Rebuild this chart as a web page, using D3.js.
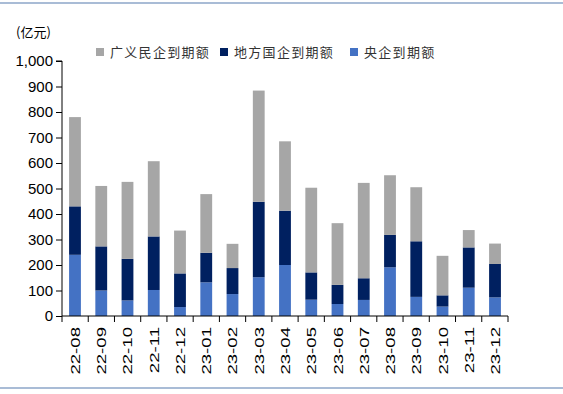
<!DOCTYPE html>
<html>
<head>
<meta charset="utf-8">
<script src="https://cdn.jsdelivr.net/npm/d3@7"></script>
<style>
  body { margin: 0; background: #fff; }
  svg { display: block; }
</style>
</head>
<body>
<div id="chart"></div>
<script>
const months = ['22-08', '22-09', '22-10', '22-11', '22-12', '23-01', '23-02', '23-03', '23-04',
    '23-05', '23-06', '23-07', '23-08', '23-09', '23-10', '23-11', '23-12'];
// 央企到期额
const central = [240, 100, 61, 102, 35, 132, 86, 152, 200, 64, 47, 63, 191, 75, 37, 111, 73];
// 地方国企到期额
const local = [190, 173, 163, 210, 132, 116, 102, 296, 213, 107, 75, 85, 127, 218, 44, 158, 131];
// 广义民企到期额
const priv = [350, 237, 302, 295, 168, 230, 95, 436, 272, 332, 242, 374, 234, 212, 155, 68, 80];
const yTicks = [0, 100, 200, 300, 400, 500, 600, 700, 800, 900, 1000];

const seriesNames = ['central', 'local', 'priv'];
const legendItems = [
    { key: 'priv', label: '广义民企到期额' },
    { key: 'local', label: '地方国企到期额' },
    { key: 'central', label: '央企到期额' }
];
const colors = { central: '#4472c4', local: '#002060', priv: '#a6a6a6' };

const W = 563, H = 394;
const margin = { top: 61, right: 55, bottom: 78, left: 62 };
const width = W - margin.left - margin.right;
const height = H - margin.top - margin.bottom;

const svg = d3.select('#chart').append('svg')
    .attr('width', W)
    .attr('height', H);

// frame lines top and bottom
svg.append('rect').attr('x', 0).attr('y', 2).attr('width', W).attr('height', 2).attr('fill', '#a9bcd6');
svg.append('rect').attr('x', 0).attr('y', 387).attr('width', W).attr('height', 2).attr('fill', '#a9bcd6');

const g = svg.append('g').attr('transform', `translate(${margin.left},${margin.top})`);

const rows = months.map((m, i) => ({ month: m, central: central[i], local: local[i], priv: priv[i] }));
const stacked = d3.stack().keys(seriesNames)(rows);

const x = d3.scaleBand().domain(months).range([0, width]).paddingInner(0.55).paddingOuter(0.27);
const y = d3.scaleLinear().domain([0, 1000]).range([height, 0]);

g.selectAll('g.layer')
    .data(stacked)
    .enter()
    .append('g')
    .attr('class', 'layer')
    .attr('fill', d => colors[d.key])
    .selectAll('rect')
    .data(d => d)
    .enter()
    .append('rect')
    .attr('x', d => x(d.data.month))
    .attr('width', x.bandwidth())
    .attr('y', d => y(d[1]))
    .attr('height', d => y(d[0]) - y(d[1]));

// y axis
const yAxis = g.append('g')
    .call(d3.axisLeft(y).tickValues(yTicks).tickSize(6).tickPadding(3).tickFormat(d3.format(',')));
yAxis.select('.domain').attr('d', `M-6,0H0V${height}`).attr('stroke', '#000');
yAxis.selectAll('text')
    .attr('font-family', 'Liberation Sans, Arial, sans-serif')
    .attr('font-size', 15)
    .attr('fill', '#000');

// x axis with ticks at band boundaries
const xAxis = g.append('g').attr('transform', `translate(0,${height})`);
xAxis.append('line').attr('x1', 0).attr('x2', width).attr('stroke', '#000');
const step = width / months.length;
xAxis.selectAll('line.tick')
    .data(d3.range(months.length + 1))
    .enter()
    .append('line')
    .attr('class', 'tick')
    .attr('x1', i => i * step)
    .attr('x2', i => i * step)
    .attr('y1', 0)
    .attr('y2', 6)
    .attr('stroke', '#000');
xAxis.selectAll('text')
    .data(months)
    .enter()
    .append('text')
    .attr('transform', d => `translate(${x(d) + x.bandwidth() / 2 + 5},11) rotate(-90) scale(1.38,1)`)
    .attr('text-anchor', 'end')
    .attr('font-family', 'Liberation Sans, Arial, sans-serif')
    .attr('font-size', 13.5)
    .attr('fill', '#000')
    .text(d => d);

// unit label
svg.append('text')
    .attr('x', 16)
    .attr('y', 37)
    .attr('font-family', 'Noto Sans CJK SC, sans-serif')
    .attr('font-size', 13)
    .attr('fill', '#000')
    .text('(亿元)');

// legend
const legendX = [96, 220, 350];
const legend = svg.append('g');
legendItems.forEach((item, i) => {
    legend.append('rect')
        .attr('x', legendX[i])
        .attr('y', 48)
        .attr('width', 8)
        .attr('height', 8)
        .attr('fill', colors[item.key]);
    legend.append('text')
        .attr('x', legendX[i] + 14)
        .attr('y', 57)
        .attr('font-family', 'Noto Sans CJK SC, sans-serif')
        .attr('font-size', 13)
        .attr('letter-spacing', 1.3)
        .attr('fill', '#333')
        .text(item.label);
});
</script>
</body>
</html>
